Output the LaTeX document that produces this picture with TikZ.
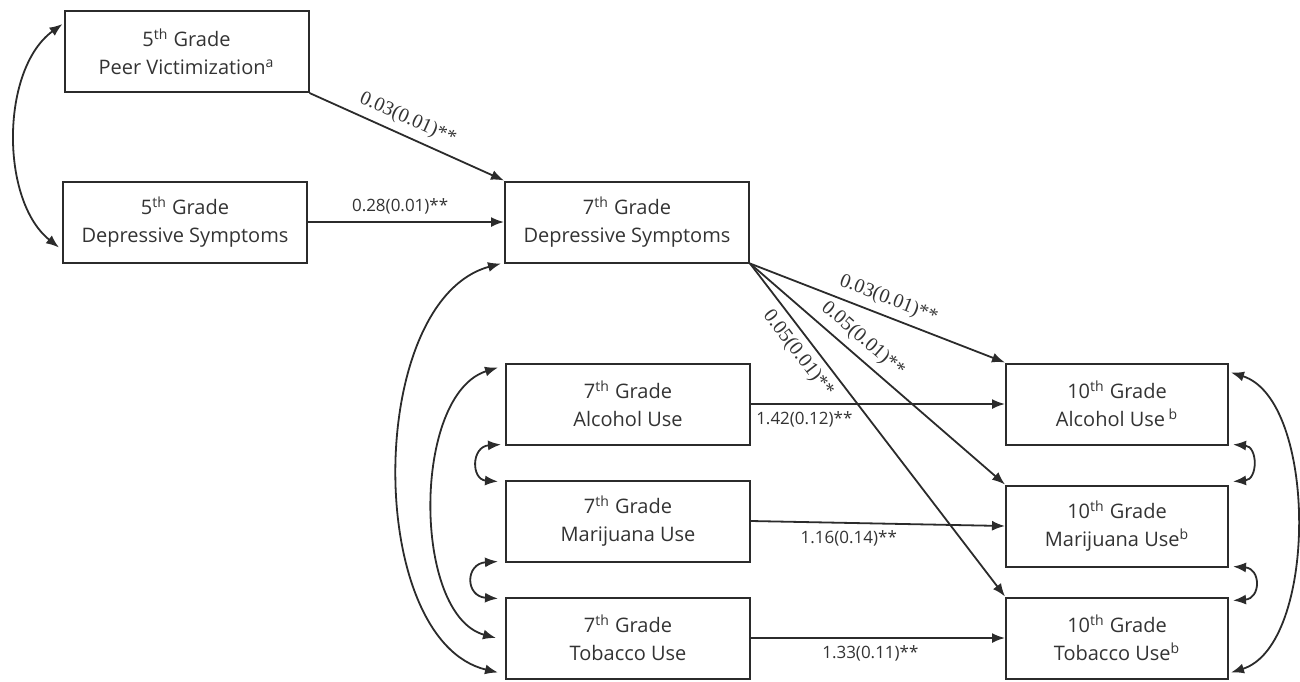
\documentclass[tikz,border=0pt]{standalone}
\usepackage{fontspec}
\setmainfont{Open Sans}
\newfontfamily\labserif{Liberation Serif}
\usetikzlibrary{arrows.meta,calc}
\definecolor{ink}{HTML}{2B2B2B}
\definecolor{txt}{HTML}{333333}
\begin{document}
\begin{tikzpicture}[x=0.5pt,y=-0.5pt,
  box/.style={draw=ink,line width=1pt,inner sep=0pt,minimum width=122pt,minimum height=40.5pt,align=center,text=txt,font=\fontsize{10}{14}\selectfont},
  boxten/.style={box,minimum width=111pt},
  path/.style={draw=ink,line width=0.9pt,-{Latex[length=6.5pt,width=5pt]}},
  dbl/.style={draw=ink,line width=0.9pt,{Latex[length=6.5pt,width=5pt]}-{Latex[length=6.5pt,width=5pt]}},
  slab/.style={font=\labserif\fontsize{10}{12}\selectfont,text=txt,sloped},
  hlab/.style={font=\fontsize{8.5}{10}\selectfont,text=txt}]
\useasboundingbox (0,0) rectangle (1300,681);
\node[box] (pv) at (186.5,51.5) {5\textsuperscript{th} Grade\\Peer Victimization\textsuperscript{a}};
\node[box] (d5) at (185,222) {5\textsuperscript{th} Grade\\Depressive Symptoms};
\node[box] (d7) at (627,222) {7\textsuperscript{th} Grade\\Depressive Symptoms};
\node[box] (a7) at (628,404) {7\textsuperscript{th} Grade\\Alcohol Use};
\node[box] (m7) at (628,521) {7\textsuperscript{th} Grade\\Marijuana Use};
\node[box] (t7) at (628,638) {7\textsuperscript{th} Grade\\Tobacco Use};
\node[boxten] (a10) at (1117,404) {10\textsuperscript{th} Grade\\Alcohol Use\,\textsuperscript{b}};
\node[boxten] (m10) at (1117,526) {10\textsuperscript{th} Grade\\Marijuana Use\textsuperscript{b}};
\node[boxten] (t10) at (1117,638) {10\textsuperscript{th} Grade\\Tobacco Use\textsuperscript{b}};
% directed paths
\draw[path] (pv.south east) -- node[slab,above,pos=0.47] {0.03(0.01)**} (d7.north west);
\draw[path] (d5.east) -- node[hlab,above,pos=0.47] {0.28(0.01)**} (d7.west);
\draw[path] (d7.south east) -- node[slab,above,pos=0.52] {0.03(0.01)**} (a10.north west);
\draw[path] (d7.south east) -- node[slab,above,pos=0.40] {0.05(0.01)**} (m10.north west);
\draw[path] (d7.south east) -- node[slab,below,pos=0.24] {0.05(0.01)**} (t10.north west);
\draw[path] (a7.east) -- node[hlab,below,pos=0.21] {1.42(0.12)**} (a10.west);
\draw[path] (m7.east) -- node[hlab,below,pos=0.385] {1.16(0.14)**} (m10.west);
\draw[path] (t7.east) -- node[hlab,below,pos=0.47] {1.33(0.11)**} (t10.west);
% covariances
\draw[dbl] ($(pv.north west)+(-1,14)$) .. controls +(-62,45) and +(-59,-47) .. ($(d5.south west)+(-3,-16)$);
\draw[dbl] ($(d7.south west)+(-3,0)$) .. controls +(-136,37) and +(-134,-32) .. ($(t7.south west)+(-7,-7)$);
\draw[dbl] ($(a7.north west)+(-7,5)$) .. controls +(-86,27) and +(-84,-23) .. ($(t7.west)+(-9,0)$);
\draw[dbl] ($(a7.south west)+(-4,-1)$) .. controls +(-30,2) and +(-27,-2) .. ($(m7.north west)+(-7,2)$);
\draw[dbl] ($(m7.south west)+(-7,-1)$) .. controls +(-33,2) and +(-33,-2) .. ($(t7.north west)+(-7,2)$);
\draw[dbl] ($(a10.north east)+(2,10)$) .. controls +(87,27) and +(87,-27) .. ($(t10.south east)+(2,-7)$);
\draw[dbl] ($(a10.south east)+(4,-1)$) .. controls +(25,2) and +(25,-2) .. ($(m10.north east)+(4,-3)$);
\draw[dbl] ($(m10.south east)+(4,-1)$) .. controls +(28,2) and +(28,-2) .. ($(t10.north east)+(4,4)$);
\end{tikzpicture}
\end{document}
